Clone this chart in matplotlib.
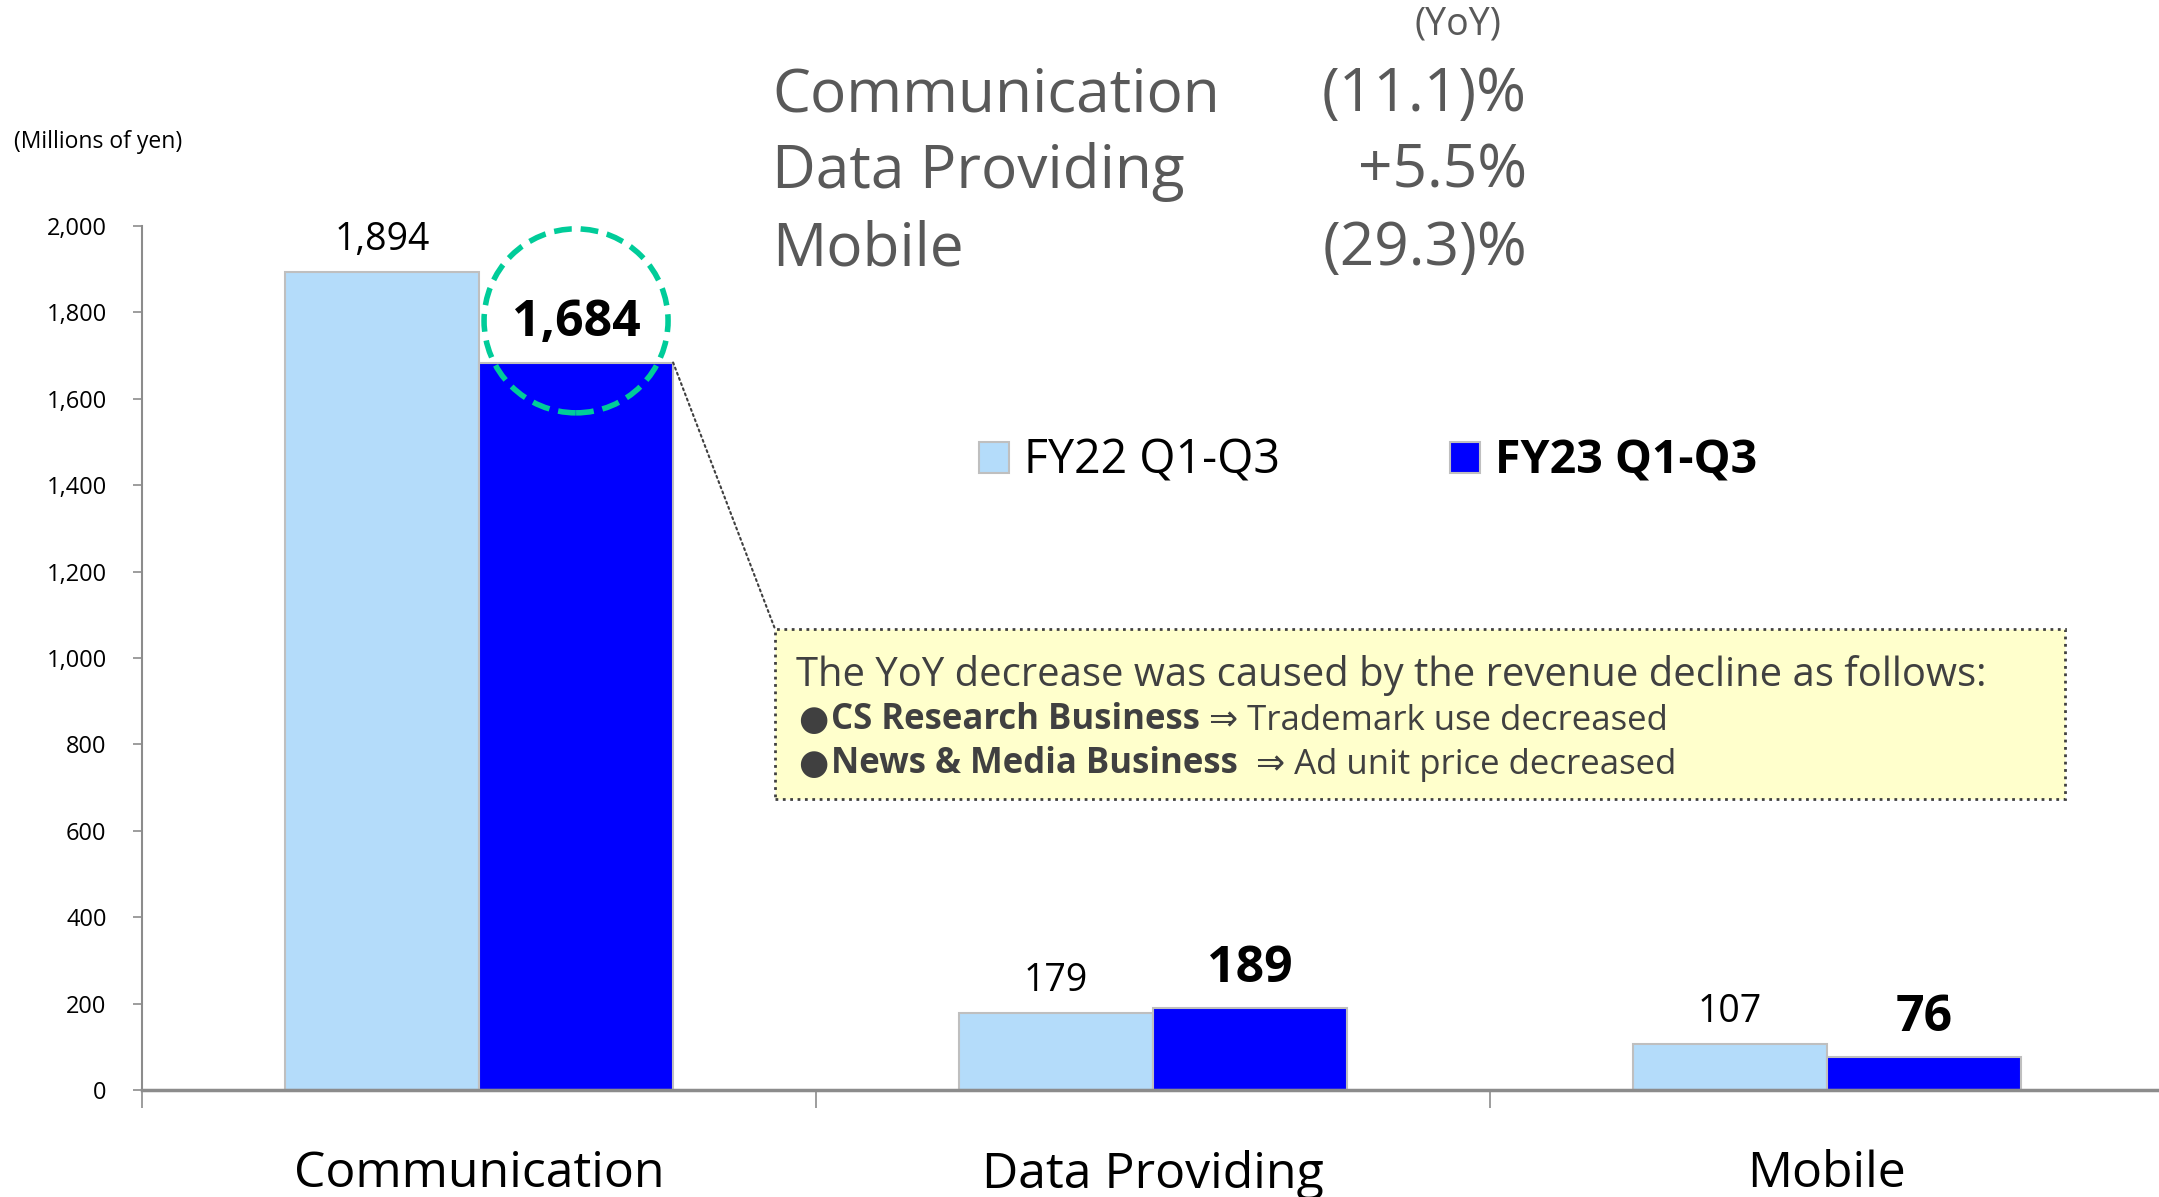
import matplotlib
matplotlib.use("Agg")
import numpy as np
import matplotlib.pyplot as plt
from matplotlib.patches import Rectangle, Circle, ConnectionPatch
from matplotlib.text import Annotation
from matplotlib.transforms import ScaledTranslation

# --- data ---
categories = ['Communication', 'Data Providing', 'Mobile']
fy22 = [1894, 179, 107]
fy23 = [1684, 189, 76]
series_names = ['FY22 Q1-Q3', 'FY23 Q1-Q3']
yoy_labels = ['(11.1)%', '+5.5%', '(29.3)%']
y_ticks = [0, 200, 400, 600, 800, 1000, 1200, 1400, 1600, 1800, 2000]
note_title = 'The YoY decrease was caused by the revenue decline as follows:'
note_bold = ['CS Research Business', 'News & Media Business']
note_rest = [' \u21d2 Trademark use decreased', '  \u21d2 Ad unit price decreased']

plt.rcParams['font.family'] = ['Open Sans', 'DejaVu Sans']

W, H = 2159, 1197
fig = plt.figure(figsize=(W / 100, H / 100), dpi=100)
ax = fig.add_axes([142 / W, 107 / H, 2022 / W, (1090 - 226) / H])

c22 = '#b4dcfa'
c23 = '#0000ff'
grey = '#8c8c8c'
txt_grey = '#595959'
note_col = '#404040'

x = np.arange(len(categories))
w = 0.288
b22 = ax.bar(x - w / 2, fy22, w, color=c22, edgecolor='#bfbfbf', linewidth=1.5, label=series_names[0])
b23 = ax.bar(x + w / 2, fy23, w, color=c23, edgecolor='#bfbfbf', linewidth=1.5, label=series_names[1])

ax.set_xlim(-0.5, 2.5)
ax.set_ylim(0, 2000)
ax.set_yticks(y_ticks, [f'{v:,}' for v in y_ticks])
ax.tick_params(axis='y', length=6.5, width=1.2, color=grey, pad=19, labelsize=17)

ax.set_xticks([-0.5, 0.5, 1.5], [])
ax.set_xticks(x, categories, minor=True)
ax.tick_params(axis='x', which='major', length=13, width=1.2, color=grey)
ax.tick_params(axis='x', which='minor', length=0, pad=43, labelsize=36)

for s in ['top', 'right']:
    ax.spines[s].set_visible(False)
ax.spines['left'].set_color(grey)
ax.spines['left'].set_linewidth(1.5)
ax.spines['bottom'].set_color(grey)
ax.spines['bottom'].set_linewidth(2.5)

# value labels
for xi, v in zip(x - w / 2, fy22):
    ax.annotate(f'{v:,}', xy=(xi, v), xytext=(0, 23), textcoords='offset points',
                ha='center', va='center', fontsize=27)
for xi, v in zip(x + w / 2, fy23):
    ax.annotate(f'{v:,}', xy=(xi, v), xytext=(0, 28.5), textcoords='offset points',
                ha='center', va='center', fontsize=36, fontweight='bold')

# dashed highlight circle around the Communication FY23 label
ctr = (fig.dpi_scale_trans + ScaledTranslation(0, 30 / 72, fig.dpi_scale_trans)
       + ScaledTranslation(x[0] + w / 2, fy23[0], ax.transData))
circ = Circle((0, 0), 0.92, transform=ctr, fill=False, edgecolor='#00cc99',
              linewidth=4, linestyle=(0, (3.2, 1.6)), clip_on=False, zorder=5)
fig.add_artist(circ)

fig.text(14 / W, 1 - 142 / H, '(Millions of yen)', fontsize=16.5, va='center', ha='left')

# legend
leg = ax.legend(handles=[b22, b23], labels=series_names, loc='center left',
                bbox_to_anchor=(979 / W, 1 - 461 / H), bbox_transform=fig.transFigure,
                ncol=2, frameon=False, fontsize=33.5, handlelength=0.65, handleheight=0.65,
                handletextpad=0.32, columnspacing=3.65, borderpad=0, borderaxespad=0)
leg.get_texts()[1].set_fontweight('bold')

# YoY block at top
fig.text(1501 / W, 1 - 25 / H, '(YoY)', fontsize=27, color=txt_grey, ha='right', va='center')
for i, (cat, yl) in enumerate(zip(categories, yoy_labels)):
    yy = 1 - [95, 172, 249][i] / H
    fig.text(772 / W, yy, cat, fontsize=43.5, color=txt_grey, ha='left', va='center')
    fig.text(1527 / W, yy, yl, fontsize=43.5, color=txt_grey, ha='right', va='center')

# note box
bx0, bx1 = 775 / W, 2065 / W
by0, by1 = 1 - 799 / H, 1 - 629 / H
box = Rectangle((bx0, by0), bx1 - bx0, by1 - by0, transform=fig.transFigure,
                facecolor='#ffffcc', edgecolor=note_col, linewidth=2, linestyle=':', zorder=1)
fig.add_artist(box)
fig.add_artist(ConnectionPatch(xyA=(x[0] + w, fy23[0]), coordsA=ax.transData,
                               xyB=(bx0, by1), coordsB=fig.transFigure,
                               linestyle=':', linewidth=1.5, color=note_col))

fig.text(796 / W, 1 - 675 / H, note_title, fontsize=28.8, color=note_col, va='center', zorder=3)
for yy, bt, rt in zip([721, 765], note_bold, note_rest):
    bul = fig.text(798 / W, 1 - yy / H, '\u25cf', fontsize=25, color=note_col, va='center', zorder=3)
    bold = Annotation(bt, xy=(1, 0), xycoords=bul, xytext=(2, 0), textcoords='offset points',
                      va='bottom', ha='left', fontsize=25, fontweight='bold',
                      color=note_col, zorder=3)
    fig.add_artist(bold)
    fig.add_artist(Annotation(rt, xy=(1, 0), xycoords=bold, va='bottom', ha='left',
                              fontsize=25, color=note_col, zorder=3))

fig.savefig('out.png', dpi=100)
